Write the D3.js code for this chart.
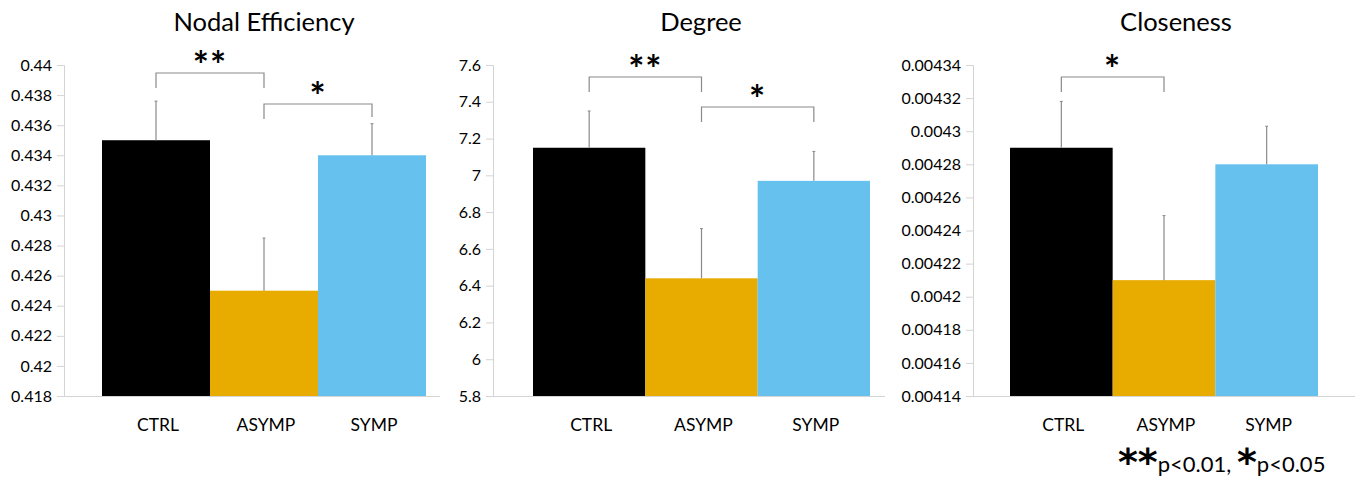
<!DOCTYPE html>
<html>
<head>
<meta charset="utf-8">
<script src="https://cdn.jsdelivr.net/npm/d3@7"></script>
<style>
  body { margin: 0; background: #fff; }
  text { font-family: Lato, "Open Sans", sans-serif; fill: #000; }
</style>
</head>
<body>
<svg width="1362" height="487"></svg>
<script>
const categories = ["CTRL", "ASYMP", "SYMP"];
const colors = ["#000000", "#e8ab00", "#67c1ee"];

// means and upper error values, per metric
const efficiencyMeans = [0.435, 0.425, 0.434];
const efficiencyErr = [0.4376, 0.4285, 0.4361];
const efficiencyTicks = [0.418, 0.42, 0.422, 0.424, 0.426, 0.428, 0.43, 0.432, 0.434, 0.436, 0.438, 0.44];

const degreeMeans = [7.15, 6.44, 6.97];
const degreeErr = [7.35, 6.71, 7.13];
const degreeTicks = [5.8, 6, 6.2, 6.4, 6.6, 6.8, 7, 7.2, 7.4, 7.6];

const closenessMeans = [0.00429, 0.00421, 0.00428];
const closenessErr = [0.004318, 0.004249, 0.004303];
const closenessTicks = [0.00414, 0.00416, 0.00418, 0.0042, 0.00422, 0.00424, 0.00426, 0.00428, 0.0043, 0.00432, 0.00434];

// significance brackets: [from, to, label]
const efficiencySig = [["CTRL", "ASYMP", "**"], ["ASYMP", "SYMP", "*"]];
const degreeSig = [["CTRL", "ASYMP", "**"], ["ASYMP", "SYMP", "*"]];
const closenessSig = [["CTRL", "ASYMP", "*"]];

const svg = d3.select("svg");

const panels = [
  { title: "Nodal Efficiency", means: efficiencyMeans, err: efficiencyErr, ticks: efficiencyTicks, sig: efficiencySig,
    axisX: 64, barsL: 102, barsR: 426, axisEnd: 440, sigY: [73, 104], legs: [[15, 15], [15, 13]] },
  { title: "Degree", means: degreeMeans, err: degreeErr, ticks: degreeTicks, sig: degreeSig,
    axisX: 493, barsL: 533, barsR: 870, axisEnd: 885, sigY: [77, 107], legs: [[15, 15], [15, 15]] },
  { title: "Closeness", means: closenessMeans, err: closenessErr, ticks: closenessTicks, sig: closenessSig,
    axisX: 973, barsL: 1010, barsR: 1318, axisEnd: 1355, sigY: [77], legs: [[15, 15]] }
];

const yTop = 65, yBottom = 396;

// asterisks drawn in DejaVu bold, which is close to the heavy star of the original
function stars(sel, size) {
  return sel.attr("font-size", size + "px")
    .attr("font-family", "'DejaVu Sans', sans-serif")
    .attr("font-weight", "bold");
}

panels.forEach(p => {
  const g = svg.append("g");
  const y = d3.scaleLinear()
    .domain([p.ticks[0], p.ticks[p.ticks.length - 1]])
    .range([yBottom, yTop]);
  const x = d3.scaleBand().domain(categories).range([p.barsL, p.barsR]).padding(0);

  // y axis
  const yAxis = g.append("g")
    .attr("transform", `translate(${p.axisX},0)`)
    .call(d3.axisLeft(y).tickValues(p.ticks).tickSize(7).tickPadding(5).tickFormat(d => String(+d.toPrecision(6))));
  yAxis.select(".domain").attr("stroke", "#d4d4d4");
  yAxis.selectAll(".tick line").attr("stroke", "#d4d4d4");
  yAxis.selectAll(".tick text")
    .attr("font-size", "16px")
    .attr("font-family", "Lato, sans-serif")
    .attr("fill", "#000");

  // bars
  g.selectAll("rect.bar")
    .data(p.means)
    .join("rect")
    .attr("class", "bar")
    .attr("x", (d, i) => x(categories[i]))
    .attr("width", x.bandwidth())
    .attr("y", d => y(d))
    .attr("height", d => yBottom - y(d))
    .attr("fill", (d, i) => colors[i]);

  // error bars
  g.selectAll("line.err")
    .data(p.means)
    .join("line")
    .attr("class", "err")
    .attr("x1", (d, i) => x(categories[i]) + x.bandwidth() / 2)
    .attr("x2", (d, i) => x(categories[i]) + x.bandwidth() / 2)
    .attr("y1", d => y(d))
    .attr("y2", (d, i) => y(p.err[i]))
    .attr("stroke", "#8a8a8a")
    .attr("stroke-width", 1.2);
  g.selectAll("line.cap")
    .data(p.means)
    .join("line")
    .attr("class", "cap")
    .attr("x1", (d, i) => x(categories[i]) + x.bandwidth() / 2 - 1.5)
    .attr("x2", (d, i) => x(categories[i]) + x.bandwidth() / 2 + 1.5)
    .attr("y1", (d, i) => y(p.err[i]))
    .attr("y2", (d, i) => y(p.err[i]))
    .attr("stroke", "#8a8a8a")
    .attr("stroke-width", 1);

  // x axis line
  g.append("line")
    .attr("x1", p.axisX).attr("x2", p.axisEnd)
    .attr("y1", yBottom + 0.5).attr("y2", yBottom + 0.5)
    .attr("stroke", "#d4d4d4");

  // category labels
  g.selectAll("text.cat")
    .data(categories)
    .join("text")
    .attr("class", "cat")
    .attr("x", d => x(d) + x.bandwidth() / 2 + 2)
    .attr("y", 431)
    .attr("text-anchor", "middle")
    .attr("font-size", "17.5px")
    .text(d => d);

  // title
  g.append("text")
    .attr("x", (p.axisX + p.axisEnd) / 2 + 12)
    .attr("y", 31)
    .attr("text-anchor", "middle")
    .attr("font-size", "25.5px")
    .text(p.title);

  // significance brackets
  p.sig.forEach((s, i) => {
    const x1 = x(s[0]) + x.bandwidth() / 2;
    const x2 = x(s[1]) + x.bandwidth() / 2;
    const top = p.sigY[i];
    g.append("path")
      .attr("d", `M${x1},${top + p.legs[i][0]}V${top}H${x2}V${top + p.legs[i][1]}`)
      .attr("fill", "none")
      .attr("stroke", "#8a8a8a")
      .attr("stroke-width", 1.2);
    g.append("text")
      .attr("x", (x1 + x2) / 2)
      .attr("y", top + 5.5)
      .attr("text-anchor", "middle")
      .attr("letter-spacing", "1px")
      .call(stars, 38)
      .text(s[2]);
  });
});

// footnote
const note = svg.append("text")
  .attr("x", 1118)
  .attr("y", 472);
note.append("tspan").call(stars, 38).attr("dy", "3").text("**");
note.append("tspan").attr("font-size", "22px").attr("dy", "-3").text("p<0.01, ");
note.append("tspan").call(stars, 38).attr("dy", "3").text("*");
note.append("tspan").attr("font-size", "22px").attr("dy", "-3").text("p<0.05");
</script>
</body>
</html>
